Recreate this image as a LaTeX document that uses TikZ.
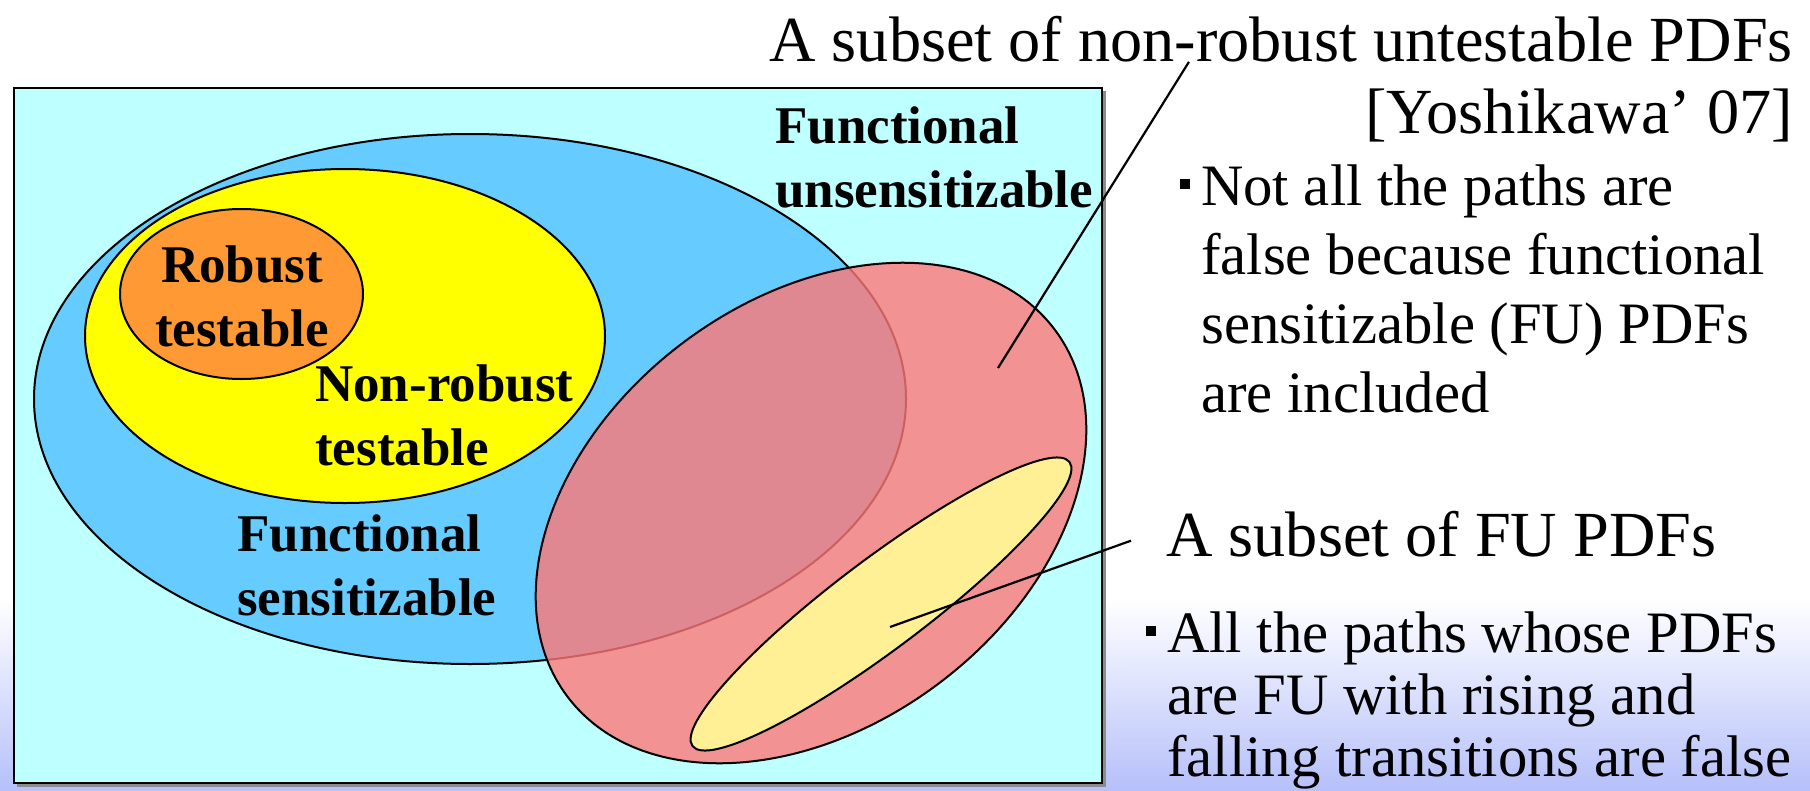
\documentclass[tikz,border=0pt]{standalone}
\usepackage{fontspec}
\setmainfont{Liberation Serif}
\usetikzlibrary{calc}

\definecolor{bgblue}{RGB}{182,192,250}
\definecolor{boxcyan}{RGB}{190,255,255}
\definecolor{funcblue}{RGB}{102,204,255}
\definecolor{nrtyellow}{RGB}{255,255,0}
\definecolor{rtorange}{RGB}{255,153,51}
\definecolor{nrured}{RGB}{255,119,119}
\definecolor{fupale}{RGB}{255,240,150}

% small square bullet hanging left of the text
\newcommand{\sqbul}{\llap{\rule[0.28em]{0.17em}{0.17em}\hspace{0.19em}}}

\tikzset{
  setlabel/.style={font=\fontsize{53}{64}\selectfont\bfseries, inner sep=0pt, align=left},
  bigtext/.style={font=\fontsize{64.3}{72}\selectfont, inner sep=0pt},
  notetext/.style={font=\fontsize{58.7}{69}\selectfont, inner sep=0pt, align=left},
  outline/.style={draw=black, line width=2pt},
  leader/.style={draw=black, line width=2.2pt}
}

\begin{document}
\begin{tikzpicture}[x=1pt,y=-1pt]
\useasboundingbox (0,0) rectangle (1810,790);
% slide background
\fill[white] (0,0) rectangle (1810,600);
\shade[top color=white, bottom color=bgblue] (0,599) rectangle (1810,790);

% frame
\fill[black!45] (17,91) rectangle (1106,787);
\filldraw[fill=boxcyan, outline] (14,88) rectangle (1102,783);

% nested sets
\filldraw[fill=funcblue, outline] (470,399) ellipse (436pt and 265pt);
\filldraw[fill=nrtyellow, outline] (345,336) ellipse (260pt and 167pt);
\filldraw[fill=rtorange, outline] (241.5,294) ellipse (121.5pt and 85pt);
\filldraw[fill=nrured, fill opacity=0.8, outline, rotate around={37:(811,513)}] (811,513) ellipse (305pt and 213pt);
\filldraw[fill=fupale, outline, rotate around={37:(881,604)}] (881,604) ellipse (236pt and 45pt);

% set labels (base = last line)
\node[setlabel, anchor=base west] (funsens) at (775,207) {Functional\\unsensitizable};
\node[setlabel, anchor=base, align=center] (robust) at (242,346) {Robust\\testable};
\node[setlabel, anchor=base west] (nonrobust) at (315,465) {Non-robust\\testable};
\node[setlabel, anchor=base west] (fsens) at (237,615) {Functional\\sensitizable};

% notes on the right
\node[bigtext, anchor=base east] (nrtitle) at (1793,61) {A subset of non-robust untestable PDFs};
\node[bigtext, anchor=base east] (yoshi) at (1793,133) {[Yoshikawa’ 07]};
\node[notetext, anchor=base west] (nrnote) at (1201,412) {\sqbul Not all the paths are\\false because functional\\sensitizable (FU) PDFs\\are included};
\node[bigtext, anchor=base west] (futitle) at (1166,556) {A subset of FU PDFs};
\node[notetext, anchor=base west, font=\fontsize{58.7}{62}\selectfont] (funote) at (1167,776) {\sqbul All the paths whose PDFs\\are FU with rising and\\falling transitions are false};

% leaders
\coordinate (nrtip) at (998,368);
\coordinate (futip) at (890,627);
\draw[leader] ($(nrtitle.south west)!0.41!(nrtitle.south east)$) -- (nrtip);
\draw[leader] ([xshift=-35pt, yshift=-7pt]futitle.west) -- (futip);
\end{tikzpicture}
\end{document}
